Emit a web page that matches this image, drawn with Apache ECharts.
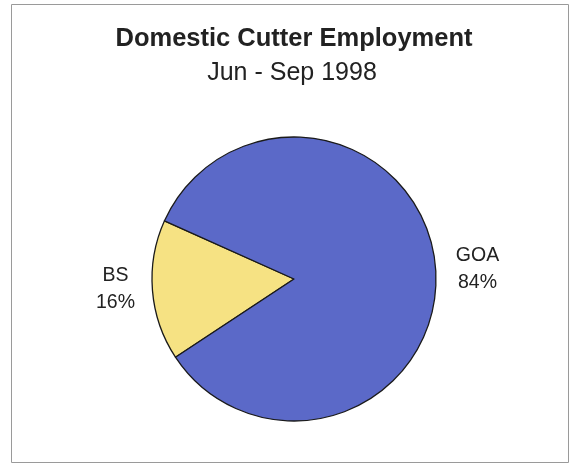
<!DOCTYPE html>
<html>
<head>
<meta charset="utf-8">
<style>
html,body{margin:0;padding:0;background:#fff;}
#c{width:570px;height:466px;}
</style>
<script src="https://cdn.jsdelivr.net/npm/echarts@6/dist/echarts.min.js"></script>
</head>
<body>
<div id="c"></div>
<script>
const titleText = 'Domestic Cutter Employment';
const subtitleText = 'Jun - Sep 1998';
const categories = ['BS', 'GOA'];
const values = [16, 84];
const colors = ['#F6E283', '#5B69C8'];

const chart = echarts.init(document.getElementById('c'), null, {renderer: 'canvas'});
const font = '"Liberation Sans", Arial, sans-serif';
chart.setOption({
  backgroundColor: '#ffffff',
  animation: false,
  graphic: [{
    type: 'rect',
    shape: {x: 11.5, y: 4.5, width: 557, height: 458},
    style: {fill: 'none', stroke: '#9a9a9a', lineWidth: 1},
    silent: true
  }],
  title: [{
    text: titleText,
    left: 289,
    textAlign: 'center',
    top: 21,
    textStyle: {fontFamily: font, fontSize: 25.5, fontWeight: 'bold', color: '#222'}
  }, {
    text: subtitleText,
    left: 287,
    textAlign: 'center',
    top: 56,
    textStyle: {fontFamily: font, fontSize: 25, fontWeight: 'normal', color: '#222'}
  }],
  series: [{
    type: 'pie',
    center: [294, 279],
    radius: 142,
    startAngle: 213.4,
    clockwise: true,
    avoidLabelOverlap: false,
    itemStyle: {borderColor: '#1a1a1a', borderWidth: 1.3},
    label: {
      show: true,
      position: 'outside',
      formatter: '{b}\n{d}%',
      fontFamily: font,
      fontSize: 19.5,
      lineHeight: 27,
      color: '#222'
    },
    labelLine: {show: false, length: 14, length2: 12},
    labelLayout: function (p) { return {align: 'center', dy: p.dataIndex === 0 ? -3 : 3}; },
    emphasis: {disabled: true},
    data: categories.map((c, i) => ({
      name: c,
      value: values[i],
      itemStyle: {color: colors[i]},
      labelLine: i === 0 ? {length: 16, length2: 16} : {length: 14, length2: 23}
    }))
  }]
});
</script>
</body>
</html>
